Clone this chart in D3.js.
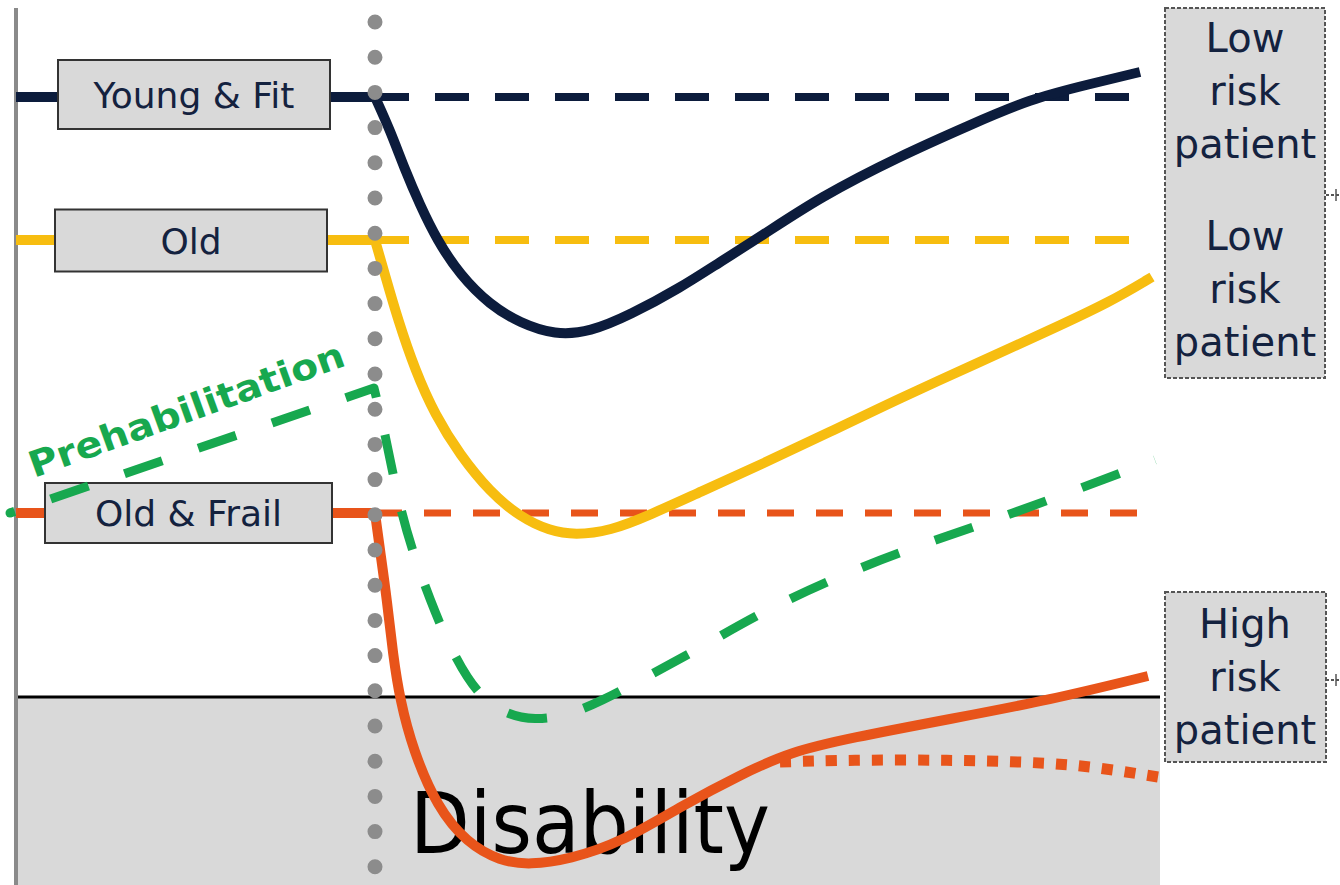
<!DOCTYPE html>
<html><head><meta charset="utf-8">
<script src="https://cdn.jsdelivr.net/npm/d3@7"></script>
<style>html,body{margin:0;padding:0;background:#fff;}svg{display:block;}</style>
</head><body>
<svg id="chart" width="1340" height="885"></svg>
<script>
// ---------- data (time units = arbitrary, function units = arbitrary) ----------
const groups = ["Young & Fit", "Old", "Old & Frail"];
const baseLevel = [78.8, 64.5, 37.2];          // pre-operative function level
const surgeryTime = 37.5;
const startTime = 1.6;
const endTime = 115;
const disabilityLevel = 18.8;

const navyX = [37.5,39,40.5,42,43.7,46,49,52,55.5,59,63,68,72,76,82,90,97,103,109,114];
const navyY = [78.8,75.5,71.5,68,64.5,61,58,56.2,55.0,55.3,57,59.7,62.3,64.8,68.8,72.9,76.0,78.6,80.1,81.3];

const yellowX = [37.5,38.5,39.8,41.5,43.5,46,49,52,55,57.5,61,65,70,76,83,90,98,105,111,115.2];
const yellowY = [64.5,61,56.5,51.5,47,43,39.3,36.8,35.4,35.0,35.4,37,39.3,42,45.3,48.7,52.3,55.5,58.3,60.8];

const orangeX = [37.5,38,38.7,39.3,40,41.3,43.7,46.7,50,53,57,62,68.3,74,79,85,95,105,114.8];
const orangeY = [37.2,33.5,28.5,23,18.5,13.5,7.8,4.2,2.4,2.0,2.6,4.2,8,11,13.3,14.7,16.6,18.5,20.9];

const orangeAltX = [78,85,95,103,109,115.8];
const orangeAltY = [12.3,12.5,12.5,12.3,11.9,10.8];

const prehabStart = [1.0, 37.2];
const greenX = [37.4,38.5,39.8,41.2,43,45,47.7,50.7,53.5,56.5,60,65,70,76,83,90,98,106,115.5];
const greenY = [49.7,45.2,38.5,33.5,28.5,23.7,19,17,16.5,16.9,18.3,21,23.7,27.2,30.5,33.3,36.0,38.9,42.5];

const riskLabels = [["Low","risk","patient"],["Low","risk","patient"],["High","risk","patient"]];

// ---------- styles ----------
const colors = ["#0c1c3c", "#f7bd10", "#e8541a"];
const green = "#17a84f";
const textDark = "#14223f";

const svg = d3.select("#chart");
const x = d3.scaleLinear().domain([0, 134]).range([0, 1340]);
const y = d3.scaleLinear().domain([0, 88.5]).range([885, 0]);

const zip = (a, b) => a.map((v, i) => [v, b[i]]);
const curve = d3.line().x(d => x(d[0])).y(d => y(d[1])).curve(d3.curveBasis);
function withLead(lead, pts) {
  const s = curve(pts);
  return "M" + x(lead[0]) + "," + y(lead[1]) + "L" + s.slice(1);
}

// disability zone
svg.append("rect")
  .attr("x", 18).attr("y", y(disabilityLevel))
  .attr("width", 1160 - 18).attr("height", 885 - y(disabilityLevel))
  .attr("fill", "#d9d9d9");
svg.append("line")
  .attr("x1", 18).attr("x2", 1160)
  .attr("y1", y(disabilityLevel)).attr("y2", y(disabilityLevel))
  .attr("stroke", "#000").attr("stroke-width", 3);

// left axis
svg.append("line")
  .attr("x1", x(startTime)).attr("x2", x(startTime))
  .attr("y1", 8).attr("y2", 885)
  .attr("stroke", "#8a8a8a").attr("stroke-width", 4);

svg.append("text")
  .attr("x", 410).attr("y", 853)
  .attr("font-family", "DejaVu Sans").attr("font-size", 86)
  .attr("textLength", 360).attr("lengthAdjust", "spacingAndGlyphs")
  .attr("fill", "#000").text("Disability");

// dashed baseline continuations
const dashes = ["34 26", "34 26", "27 22"];
baseLevel.forEach((lv, i) => {
  svg.append("line")
    .attr("x1", x(surgeryTime)).attr("x2", x(endTime))
    .attr("y1", y(lv)).attr("y2", y(lv))
    .attr("stroke", colors[i]).attr("stroke-width", i === 2 ? 7 : 8)
    .attr("stroke-dasharray", dashes[i]);
});

// solid trajectories
const series = [zip(navyX, navyY), zip(yellowX, yellowY), zip(orangeX, orangeY)];
series.forEach((pts, i) => {
  svg.append("path")
    .attr("d", withLead([startTime, baseLevel[i]], pts))
    .attr("fill", "none").attr("stroke", colors[i])
    .attr("stroke-width", 10).attr("stroke-linejoin", "round");
});
svg.append("path")
  .attr("d", curve(zip(orangeAltX, orangeAltY)))
  .attr("fill", "none").attr("stroke", colors[2])
  .attr("stroke-width", 11).attr("stroke-dasharray", "11 12");

// group label boxes
const boxX = [[58, 330], [55, 327], [45, 332]];
const boxH = [69, 62, 60];
const boxOff = [-2.5, 0.5, 0];
groups.forEach((g, i) => {
  const cy = y(baseLevel[i]) + boxOff[i];
  svg.append("rect")
    .attr("x", boxX[i][0]).attr("y", cy - boxH[i] / 2)
    .attr("width", boxX[i][1] - boxX[i][0]).attr("height", boxH[i])
    .attr("fill", "#d9d9d9").attr("stroke", "#333").attr("stroke-width", 2);
  svg.append("text")
    .attr("x", (boxX[i][0] + boxX[i][1]) / 2).attr("y", cy + 13)
    .attr("text-anchor", "middle")
    .attr("font-family", "DejaVu Sans").attr("font-size", 36)
    .attr("fill", textDark).text(g);
});

// surgery marker (grey dots)
svg.append("line")
  .attr("x1", x(surgeryTime)).attr("x2", x(surgeryTime))
  .attr("y1", 22).attr("y2", 885)
  .attr("stroke", "#8c8c8c").attr("stroke-width", 15)
  .attr("stroke-linecap", "round").attr("stroke-dasharray", "0 35.2");

// prehabilitation path
svg.append("path")
  .attr("d", withLead(prehabStart, zip(greenX, greenY)))
  .attr("fill", "none").attr("stroke", green)
  .attr("stroke-width", 9).attr("stroke-linejoin", "round")
  .attr("stroke-dasharray", "40 38").attr("stroke-dashoffset", 35);
svg.append("circle").attr("cx", x(prehabStart[0])).attr("cy", y(prehabStart[1]))
  .attr("r", 4.5).attr("fill", green);

svg.append("text")
  .attr("transform", "translate(34,478) rotate(-19.8)")
  .attr("font-family", "DejaVu Sans").attr("font-weight", "bold")
  .attr("font-size", 36).attr("textLength", 333).attr("lengthAdjust", "spacingAndGlyphs")
  .attr("fill", green).text("Prehabilitation");

// risk boxes
const riskBoxes = [[1165, 8, 160, 370], [1165, 592, 161, 170]];
riskBoxes.forEach(b => {
  svg.append("rect")
    .attr("x", b[0]).attr("y", b[1]).attr("width", b[2]).attr("height", b[3])
    .attr("fill", "#d9d9d9").attr("stroke", "#555")
    .attr("stroke-width", 2).attr("stroke-dasharray", "4 2");
});
const riskBaselines = [52, 250, 638];
riskLabels.forEach((lines, i) => {
  lines.forEach((t, j) => {
    svg.append("text")
      .attr("x", 1245).attr("y", riskBaselines[i] + j * 53)
      .attr("text-anchor", "middle")
      .attr("font-family", "DejaVu Sans").attr("font-size", 40)
      .attr("fill", textDark).text(t);
  });
});
// connectors
[195, 680].forEach(cy => {
  svg.append("line").attr("x1", 1326).attr("x2", 1340).attr("y1", cy).attr("y2", cy)
    .attr("stroke", "#555").attr("stroke-width", 2).attr("stroke-dasharray", "3 2");
  svg.append("line").attr("x1", 1336).attr("x2", 1336).attr("y1", cy - 6).attr("y2", cy + 6)
    .attr("stroke", "#555").attr("stroke-width", 1.5);
});
</script>
</body></html>
